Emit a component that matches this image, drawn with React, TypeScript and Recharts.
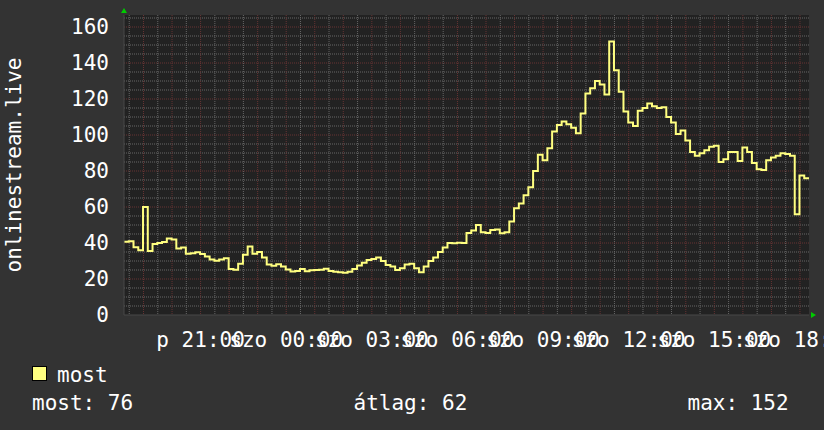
import React from 'react';
import { LineChart, Line, XAxis, YAxis, CartesianGrid, ReferenceDot, Label } from 'recharts';

// péntek 18:19 -> szombat 18:19, 10 perces lépések
const startHour = 18 + 19 / 60;
const stepMinutes = 10;

const mostValues: number[] = [
  40.7, 41, 37.6, 36, 60, 35.5, 39.5, 40, 40.5, 42.5,
  42, 37, 37.5, 34, 34.3, 34.8, 33.9, 32.5, 30.8, 30.2,
  30.8, 31.5, 25.5, 25.2, 28.5, 33.5, 38, 34, 35, 32,
  28, 27.3, 28.2, 27, 25.3, 24.2, 24.4, 25.5, 24.3, 24.8,
  25, 25.2, 25.7, 24.5, 24, 23.7, 23.5, 24, 25.5, 27.5,
  29, 30.5, 31.1, 32, 30, 27.8, 27, 25, 26, 28,
  28.5, 26, 23.8, 27, 30, 32, 35, 37.5, 40, 39.8,
  40.2, 40, 45.5, 47, 50, 46, 45.6, 47.2, 47.5, 45.4,
  46, 52, 59.3, 62, 66.5, 71, 80, 89, 86, 92.6,
  102, 105.5, 107.5, 106, 104, 101, 112, 123, 126, 130,
  128, 122.5, 152, 136, 124, 113, 107, 105, 113.5, 115,
  117.5, 116, 115, 115.4, 110, 107, 100.5, 102.5, 97, 90.5,
  88.5, 89.8, 91.5, 93.5, 94, 85, 86.5, 90.5, 90.5, 85.5,
  93, 90.5, 84.5, 81, 80.6, 86, 87.5, 88.5, 89.8, 89.5,
  88.5, 56, 77.5, 76, 76,
];

const xTickHours = [21, 24, 27, 30, 33, 36, 39, 42];
const xTickLabels = ['p 21:00', 'szo 00:00', 'szo 03:00', 'szo 06:00', 'szo 09:00', 'szo 12:00', 'szo 15:00', 'szo 18:00'];
const yTicks = [0, 20, 40, 60, 80, 100, 120, 140, 160];
const yMax = 166.67;

const seriesName = 'most';
const axisTitle = 'onlinestream.live';
const statLabels = ['most', 'átlag', 'max'];
const statValues = [76, 62, 152];

const FONT = '"DejaVu Sans Mono", monospace';
const LINE_COLOR = '#ffff80';
const MINOR_GRID = '#666666';
const MAJOR_GRID = '#663333';
const ARROW = '#00cc00';

const data = mostValues.map((v, i) => ({ t: startHour + (i * stepMinutes) / 60, most: v }));
const tStart = data[0].t;
const tEnd = data[data.length - 1].t;

const minorX: number[] = [];
const majorX: number[] = [];
for (let h = Math.ceil(tStart * 2) / 2; h <= tEnd; h += 0.5) {
  if (Math.abs(h - Math.round(h)) < 1e-6) majorX.push(h);
  else minorX.push(h);
}
const minorY: number[] = [];
const majorY: number[] = [];
for (let v = 5; v < yMax; v += 5) {
  if (v % 20 === 0) majorY.push(v);
  else minorY.push(v);
}

const labelFor = (h: number) => {
  const idx = xTickHours.indexOf(h);
  return idx >= 0 ? xTickLabels[idx] : '';
};

const UpArrow = (props: any) => {
  const { cx, cy } = props;
  return <polygon points={`${cx - 3},${cy - 2} ${cx + 3},${cy - 2} ${cx},${cy - 7}`} fill={ARROW} />;
};
const RightArrow = (props: any) => {
  const { cx, cy } = props;
  return <polygon points={`${cx + 2},${cy - 3} ${cx + 2},${cy + 3} ${cx + 7},${cy}`} fill={ARROW} />;
};

const YTitle = (props: any) => {
  const vb = props.viewBox || { x: 0, y: 15, width: 124, height: 300 };
  const x = vb.x + 21;
  const y = vb.y + vb.height / 2;
  return (
    <text x={x} y={y} transform={`rotate(-90, ${x}, ${y})`} textAnchor="middle" fill="#ffffff" fontSize={21} fontFamily={FONT}>
      {axisTitle}
    </text>
  );
};

export default function App() {
  return (
    <div style={{ position: 'absolute', left: 0, top: 0, width: 824, height: 430, background: '#333333', overflow: 'hidden' }}>
      <LineChart width={824} height={430} data={data} margin={{ top: 15, right: 15, bottom: 0, left: 0 }}>
        <CartesianGrid
          fill="#222222"
          stroke={MINOR_GRID}
          strokeDasharray="1 1"
          horizontalValues={minorY}
          verticalValues={minorX}
        />
        <CartesianGrid
          stroke={MAJOR_GRID}
          strokeDasharray="1 1"
          horizontalValues={majorY}
          verticalValues={majorX}
        />
        <XAxis
          dataKey="t"
          type="number"
          domain={[tStart, tEnd]}
          ticks={xTickHours}
          tickFormatter={labelFor}
          interval={0}
          height={115}
          tickSize={0}
          tickMargin={17}
          axisLine={{ stroke: '#484848' }}
          tick={{ fill: '#ffffff', fontSize: 21, fontFamily: FONT }}
        />
        <YAxis
          type="number"
          domain={[0, yMax]}
          ticks={yTicks}
          interval={0}
          width={124}
          tickSize={0}
          tickMargin={15}
          axisLine={{ stroke: '#484848' }}
          tick={{ fill: '#ffffff', fontSize: 21, fontFamily: FONT }}
          label={<Label content={<YTitle />} />}
        />
        <Line
          type="stepAfter"
          dataKey="most"
          name={seriesName}
          stroke={LINE_COLOR}
          strokeWidth={2}
          dot={false}
          activeDot={false}
          isAnimationActive={false}
        />
        <ReferenceDot x={tStart} y={yMax} ifOverflow="visible" shape={<UpArrow />} />
        <ReferenceDot x={tEnd} y={0} ifOverflow="visible" shape={<RightArrow />} />
      </LineChart>
      <svg width={824} height={430} style={{ position: 'absolute', left: 0, top: 0, pointerEvents: 'none' }}>
        <rect x={32.5} y={366.5} width={14} height={14} fill={LINE_COLOR} stroke="#000000" strokeWidth={1} />
        <text x={57} y={381.5} fill="#ffffff" fontSize={21} fontFamily={FONT}>{seriesName}</text>
        <text x={32} y={410} fill="#ffffff" fontSize={21} fontFamily={FONT}>{`${statLabels[0]}: ${statValues[0]}`}</text>
        <text x={353.5} y={410} fill="#ffffff" fontSize={21} fontFamily={FONT}>{`${statLabels[1]}: ${statValues[1]}`}</text>
        <text x={687.5} y={410} fill="#ffffff" fontSize={21} fontFamily={FONT}>{`${statLabels[2]}: ${statValues[2]}`}</text>
      </svg>
    </div>
  );
}
